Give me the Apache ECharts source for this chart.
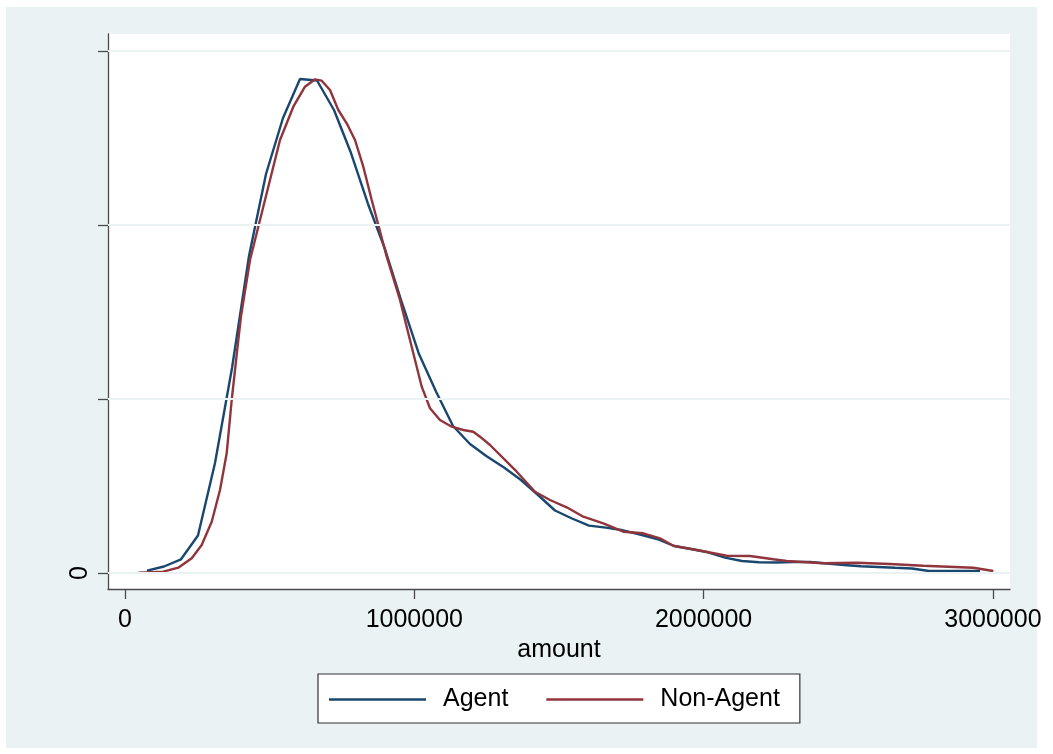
<!DOCTYPE html>
<html>
<head>
<meta charset="utf-8">
<script src="https://cdn.jsdelivr.net/npm/echarts@6/dist/echarts.min.js"></script>
<style>
  html, body { margin: 0; padding: 0; background: #ffffff; }
  #chart { width: 1053px; height: 754px; }
</style>
</head>
<body>
<div id="chart"></div>
<script>
// ---- data (density in units of 1e-7) ----
const agentX = [76000, 134800, 193600, 252300, 311100, 369900, 428600, 487400, 546100, 604900,
  663700, 722400, 781200, 840000, 898700, 957500, 1016200, 1075000, 1133800, 1192500,
  1251300, 1310100, 1368800, 1427600, 1486300, 1545100, 1603900, 1662600, 1721400, 1780100,
  1838900, 1897700, 1956400, 2015200, 2074000, 2132700, 2191500, 2250200, 2309000, 2367800,
  2426500, 2485300, 2544100, 2602800, 2661600, 2720300, 2779100, 2837900, 2896600, 2955400];
const agentY = [0.066, 0.187, 0.394, 1.078, 3.161, 5.891, 9.109, 11.466, 13.075, 14.196,
  14.152, 13.305, 12.069, 10.604, 9.310, 7.759, 6.293, 5.216, 4.224, 3.707,
  3.348, 3.032, 2.672, 2.241, 1.796, 1.566, 1.362, 1.305, 1.227, 1.106,
  0.977, 0.776, 0.690, 0.595, 0.443, 0.345, 0.307, 0.302, 0.316, 0.316,
  0.273, 0.230, 0.193, 0.172, 0.149, 0.129, 0.057, 0.057, 0.057, 0.057];

const nonAgentX = [46000, 132400, 184200, 230600, 265100, 299700, 328400, 351500, 368800, 391600,
  401000, 432100, 483900, 535800, 581800, 622200, 656800, 679900, 708600, 737300,
  766300, 795000, 823700, 852800, 904600, 950600, 985100, 1025600, 1054300, 1088800,
  1129300, 1169400, 1203900, 1227100, 1261700, 1354000, 1417200, 1469000, 1526800, 1584200,
  1653300, 1722400, 1791600, 1849300, 1895300, 1976200, 2079900, 2160400, 2240900, 2287200,
  2413700, 2529200, 2644300, 2759400, 2932200, 3001400];
const nonAgentY = [0.009, 0.037, 0.152, 0.422, 0.805, 1.474, 2.385, 3.440, 4.971, 6.695,
  7.385, 8.994, 10.719, 12.443, 13.400, 13.975, 14.187, 14.147, 13.880, 13.305,
  12.923, 12.443, 11.675, 10.719, 9.089, 7.845, 6.695, 5.354, 4.733, 4.397,
  4.204, 4.109, 4.060, 3.917, 3.678, 2.911, 2.336, 2.098, 1.888, 1.618,
  1.428, 1.187, 1.141, 0.997, 0.784, 0.661, 0.497, 0.489, 0.394, 0.345,
  0.279, 0.296, 0.259, 0.210, 0.152, 0.057];

const seriesNames = ['Agent', 'Non-Agent'];
const xTicks = [0, 1000000, 2000000, 3000000];
const yTicks = [0, 5, 10, 15];
const yLabelTicks = [0];
const xTitle = 'amount';

const zip = (xs, ys) => xs.map((x, i) => [x, ys[i]]);

const chart = echarts.init(document.getElementById('chart'), null, { renderer: 'canvas' });
const FONT = '"Liberation Sans", Arial, sans-serif';
const AXIS_COLOR = '#4a4a4a';

chart.setOption({
  animation: false,
  graphic: [{
    type: 'rect', z: -10, silent: true,
    shape: { x: 6, y: 7, width: 1031, height: 741 },
    style: { fill: '#EAF2F3' }
  }],
  grid: {
    left: 108, top: 34, right: 43, bottom: 165,
    show: true, backgroundColor: '#ffffff', borderWidth: 0
  },
  xAxis: {
    type: 'value',
    min: -58762, max: 3059091,
    name: xTitle, nameLocation: 'middle', nameGap: 40,
    nameTextStyle: { fontFamily: FONT, fontSize: 25, color: '#000' },
    axisLine: { show: true, onZero: false, lineStyle: { color: AXIS_COLOR, width: 1.3 } },
    axisTick: { show: true, customValues: xTicks, length: 10, lineStyle: { color: AXIS_COLOR, width: 1.3 } },
    axisLabel: { customValues: xTicks, margin: 19, fontFamily: FONT, fontSize: 25, color: '#000',
      formatter: v => String(Math.round(v)) },
    splitLine: { show: false }
  },
  yAxis: {
    type: 'value',
    min: -0.46, max: 15.489,
    axisLine: { show: true, onZero: false, lineStyle: { color: AXIS_COLOR, width: 1.3 } },
    axisTick: { show: true, customValues: yTicks, length: 10, lineStyle: { color: AXIS_COLOR, width: 1.3 } },
    axisLabel: { customValues: yLabelTicks, rotate: 90, margin: 15, fontFamily: FONT, fontSize: 25, color: '#000',
      formatter: v => String(Math.round(v)) },
    splitLine: { show: false }
  },
  legend: {
    data: seriesNames,
    left: 318, top: 674,
    orient: 'horizontal',
    backgroundColor: '#ffffff',
    borderColor: '#333333', borderWidth: 1.2, borderRadius: 0,
    padding: [12, 20, 10, 11],
    itemGap: 38,
    itemWidth: 97, itemHeight: 2.5,
    icon: 'rect',
    textStyle: { fontFamily: FONT, fontSize: 25, color: '#000', lineHeight: 27, padding: [0, 0, 0, 12] }
  },
  series: [
    {
      name: '__grid', type: 'line', data: [[0, 0]], symbol: 'none', silent: true, z: 1,
      lineStyle: { opacity: 0 },
      markLine: {
        silent: true, symbol: 'none', animation: false,
        label: { show: false },
        lineStyle: { color: '#EAF2F3', width: 2, type: 'solid' },
        data: yTicks.map(v => ({ yAxis: v }))
      }
    },
    {
      name: seriesNames[0], type: 'line', data: zip(agentX, agentY), symbol: 'none', z: 3,
      color: '#1A476F', lineStyle: { color: '#1A476F', width: 2.4 }
    },
    {
      name: seriesNames[1], type: 'line', data: zip(nonAgentX, nonAgentY), symbol: 'none', z: 3,
      color: '#90353B', lineStyle: { color: '#90353B', width: 2.4 }
    }
  ]
});
</script>
</body>
</html>
